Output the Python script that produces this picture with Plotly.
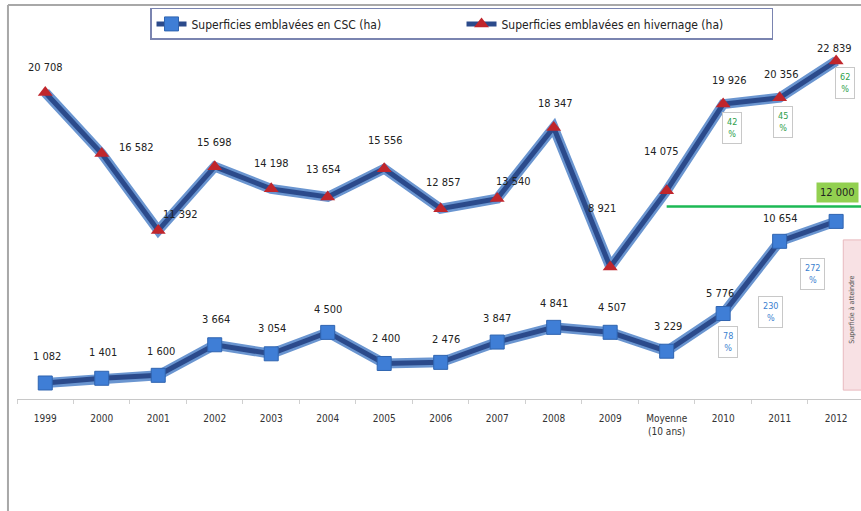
import plotly.graph_objects as go

# DATA
categories = ["1999", "2000", "2001", "2002", "2003", "2004", "2005", "2006", "2007",
              "2008", "2009", "Moyenne<br>(10 ans)", "2010", "2011", "2012"]
csc = [1082, 1401, 1600, 3664, 3054, 4500, 2400, 2476, 3847, 4841, 4507, 3229, 5776, 10654, 12000]
hivernage = [20708, 16582, 11392, 15698, 14198, 13654, 15556, 12857, 13540, 18347, 8921,
             14075, 19926, 20356, 22839]
pct_hivernage = ["42", "45", "62"]
pct_csc = ["78", "230", "272"]
pct_years = ["2010", "2011", "2012"]
objectif_csc = 13000
note_text = "Superficie à atteindre"

font_family = "Liberation Sans Narrow, DejaVu Sans Condensed, Arial Narrow, sans-serif"
line_dark = "#2B4A8B"
line_glow = "#6A95D0"
label_colour = "#222222"

# label offsets (px) for each point: (xshift, yshift)
hiv_offsets = [(0, 25), (35, 6), (22, 16), (0, 24), (0, 25), (-4, 27), (1, 28), (3, 26),
               (16, 17), (2, 24), (-8, 58), (-5, 39), (6, 24), (2, 23), (-2, 12)]
csc_offsets = [(2, 26), (1, 26), (3, 24), (1, 25), (1, 25), (0, 23), (2, 25), (5, 23),
               (0, 24), (0, 24), (2, 25), (1, 25), (-3, 20), (1, 23), (1, 29)]
hiv_pct_offsets = [(9, -24), (3, -24), (9, -22)]
csc_pct_offsets = [(5, -28), (-9, -71), (-24, -53)]


def fmt(v):
    return "{:,}".format(v).replace(",", " ")


fig = go.Figure()

# glow under the lines
for series in (csc, hivernage):
    fig.add_trace(go.Scatter(
        x=categories, y=series, mode="lines",
        line=dict(color=line_glow, width=10),
        showlegend=False, hoverinfo="skip"
    ))

fig.add_trace(go.Scatter(
    x=categories, y=csc, mode="lines+markers",
    name="Superficies emblavées en CSC (ha)",
    line=dict(color=line_dark, width=5),
    marker=dict(symbol="square", size=14, color="#3F7ED6", line=dict(color="#2F64B0", width=1))
))
fig.add_trace(go.Scatter(
    x=categories, y=hivernage, mode="lines+markers",
    name="Superficies emblavées en hivernage (ha)",
    line=dict(color=line_dark, width=5),
    marker=dict(symbol="triangle-up", size=13, color="#C0262C")
))

annotations = []
for i, c in enumerate(categories):
    dx, dy = hiv_offsets[i]
    annotations.append(dict(x=i, y=hivernage[i], xref="x", yref="y", text=fmt(hivernage[i]),
                            showarrow=False, xshift=dx, yshift=dy,
                            font=dict(size=11, color=label_colour, family=font_family)))
    dx, dy = csc_offsets[i]
    last = i == len(categories) - 1
    annotations.append(dict(x=i, y=csc[i], xref="x", yref="y", text=fmt(csc[i]),
                            showarrow=False, xshift=dx, yshift=dy,
                            bgcolor="#92D050" if last else None, borderpad=3 if last else 1,
                            font=dict(size=11, color=label_colour, family=font_family)))

for i, c in enumerate(pct_years):
    idx = categories.index(c)
    dx, dy = hiv_pct_offsets[i]
    annotations.append(dict(x=idx, y=hivernage[idx], xref="x", yref="y", text=pct_hivernage[i] + "<br>%",
                            showarrow=False, xshift=dx, yshift=dy, bgcolor="white",
                            bordercolor="#C8C8C8", borderwidth=1, borderpad=4,
                            font=dict(size=9, color="#2E9E4A", family=font_family)))
    dx, dy = csc_pct_offsets[i]
    annotations.append(dict(x=idx, y=csc[idx], xref="x", yref="y", text=pct_csc[i] + "<br>%",
                            showarrow=False, xshift=dx, yshift=dy, bgcolor="white",
                            bordercolor="#C8C8C8", borderwidth=1, borderpad=4,
                            font=dict(size=9, color="#3A7FD0", family=font_family)))

annotations.append(dict(x=0.99, y=0.24, xref="paper", yref="paper", text=note_text,
                        textangle=-90, showarrow=False, xanchor="center", yanchor="middle",
                        font=dict(size=7, color="#555555", family=font_family)))

shapes = [
    # target line
    dict(type="line", xref="x", yref="y", x0=11, x1=14.5, y0=objectif_csc, y1=objectif_csc,
         line=dict(color="#1DB954", width=2.5), layer="below"),
    # pink note box
    dict(type="rect", xref="paper", yref="paper", x0=0.979, x1=1.01, y0=0.024, y1=0.43,
         fillcolor="#F8E1E4", line=dict(color="#E8B9BE", width=1), layer="below"),
    # outer frame
    dict(type="line", xref="paper", yref="paper", x0=-0.0107, x1=-0.0107, y0=-0.35, y1=1.065,
         line=dict(color="#A8A8A8", width=2)),
    dict(type="line", xref="paper", yref="paper", x0=-0.0107, x1=1.02, y0=1.065, y1=1.065,
         line=dict(color="#A8A8A8", width=2)),
]

fig.update_layout(
    width=861, height=511,
    margin=dict(l=17, r=0, t=29, b=112),
    paper_bgcolor="white", plot_bgcolor="white",
    font=dict(family=font_family, color=label_colour),
    showlegend=True,
    legend=dict(orientation="h", x=0.1576, y=1.057, xanchor="left", yanchor="top",
                entrywidth=265, bgcolor="white", bordercolor="#7A84B0", borderwidth=1.5,
                font=dict(size=12, color="#222222", family=font_family)),
    annotations=annotations,
    shapes=shapes,
)
fig.update_xaxes(type="category", range=[-0.5, 14.44], showline=True, linecolor="#C8C8C8",
                 showgrid=False, ticks="outside", tickson="boundaries", ticklen=4,
                 tickcolor="#D0D0D0", ticklabelstandoff=10,
                 tickfont=dict(size=10, color="#333333", family=font_family))
fig.update_yaxes(visible=False, range=[0, 25000])

fig.write_html("out.html", config={"displayModeBar": False},
               post_script="document.body.style.margin='0';")
